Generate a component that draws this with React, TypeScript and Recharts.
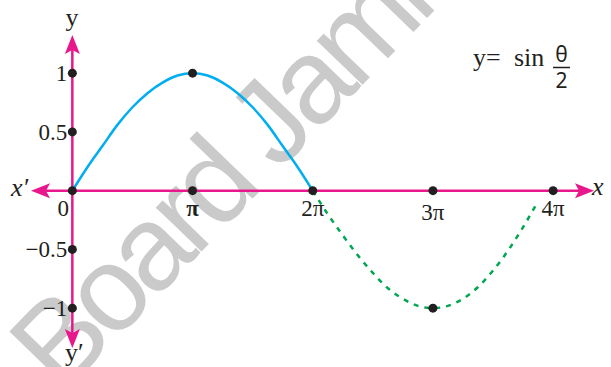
import React from "react";
import { ComposedChart, Line, XAxis, YAxis, ReferenceLine, ReferenceDot } from "recharts";

// θ is measured in multiples of π
const xTickValues = [0, 1, 2, 3, 4];
const xTickLabels = ["0", "π", "2π", "3π", "4π"];
const yTickValues = [1, 0.5, -0.5, -1];
const yTickLabels = ["1", "0.5", "−0.5", "−1"];

// y = sin(θ/2)
const solidTheta = [0, 0.125, 0.25, 0.375, 0.5, 0.625, 0.75, 0.875, 1, 1.125, 1.25, 1.375, 1.5, 1.625, 1.75, 1.875, 2];
const solidY = [0, 0.2, 0.38, 0.56, 0.71, 0.83, 0.92, 0.98, 1, 0.98, 0.92, 0.83, 0.71, 0.56, 0.38, 0.2, 0];
const dashedTheta = [2, 2.125, 2.25, 2.375, 2.5, 2.625, 2.75, 2.875, 3, 3.125, 3.25, 3.375, 3.5, 3.625, 3.75, 3.875];
const dashedY = [0, -0.2, -0.38, -0.55, -0.7, -0.83, -0.92, -0.98, -1, -0.98, -0.92, -0.82, -0.68, -0.51, -0.31, -0.09];

// marked points on the curve
const peakPoints = [
  { t: 1, y: 1 },
  { t: 3, y: -1 },
];

const solidData = solidTheta.map((t, i) => ({ t, y: solidY[i] }));
const dashedData = dashedTheta.map((t, i) => ({ t, y: dashedY[i] }));

const MAGENTA = "#e8188c";
const INK = "#231f20";
const SERIF = "Liberation Serif, Times New Roman, DejaVu Serif, serif";
const SANS = "Noto Sans, sans-serif";

const X_MIN = -0.344;
const X_MAX = 4.34;
const Y_MIN = -1.339;
const Y_MAX = 1.325;

const arrowShape = (dir: "up" | "down" | "left" | "right") => (props: any) => {
  const { cx, cy } = props;
  const pts: [number, number][] = [
    [0, 0],
    [-7.5, 19],
    [0, 15],
    [7.5, 19],
  ];
  const rot = (p: [number, number]): [number, number] => {
    const [a, b] = p;
    if (dir === "up") return [a, b];
    if (dir === "down") return [a, -b];
    if (dir === "left") return [b, a];
    return [-b, a];
  };
  const d = pts.map((p) => rot(p)).map(([a, b]) => `${cx + a},${cy + b}`).join(" ");
  return <polygon points={d} fill={MAGENTA} />;
};

const labelDot = (text: string, dx: number, dy: number, anchor: string, bold = false) => (props: any) => {
  const { cx, cy } = props;
  return (
    <g>
      <circle cx={cx} cy={cy} r={4.5} fill={INK} />
      <text
        x={cx + dx}
        y={cy + dy}
        textAnchor={anchor}
        style={{ fontFamily: SERIF, fontSize: 23, fontWeight: bold ? 700 : 400 }}
        fill={INK}
      >
        {text}
      </text>
    </g>
  );
};

const plainDot = (props: any) => <circle cx={props.cx} cy={props.cy} r={4.5} fill={INK} />;

export default function App() {
  return (
    <div style={{ position: "absolute", left: 0, top: 0, width: 611, height: 367, background: "#fff", overflow: "hidden" }}>
      {/* watermark */}
      <svg width={611} height={367} style={{ position: "absolute", left: 0, top: 0 }}>
        <text
          x={62}
          y={396}
          transform="rotate(-46 62 396)"
          style={{ fontFamily: "Liberation Sans, Arial, sans-serif", fontSize: 120, letterSpacing: -7 }}
          fill="#cacaca"
        >
          Board Jammer
        </text>
      </svg>

      <div style={{ position: "absolute", left: 0, top: 0 }}>
        <ComposedChart width={611} height={367} margin={{ top: 35, right: 17, bottom: 19, left: 31 }}>
          <XAxis type="number" dataKey="t" domain={[X_MIN, X_MAX]} allowDataOverflow hide />
          <YAxis type="number" dataKey="y" domain={[Y_MIN, Y_MAX]} allowDataOverflow hide />

          <ReferenceLine segment={[{ x: X_MIN + 0.1, y: 0 }, { x: X_MAX - 0.1, y: 0 }]} stroke={MAGENTA} strokeWidth={2.5} ifOverflow="visible" />
          <ReferenceLine segment={[{ x: 0, y: Y_MAX - 0.1 }, { x: 0, y: Y_MIN + 0.1 }]} stroke={MAGENTA} strokeWidth={2.5} ifOverflow="visible" />
          <ReferenceDot x={X_MIN} y={0} shape={arrowShape("left")} ifOverflow="visible" />
          <ReferenceDot x={X_MAX} y={0} shape={arrowShape("right")} ifOverflow="visible" />
          <ReferenceDot x={0} y={Y_MAX} shape={arrowShape("up")} ifOverflow="visible" />
          <ReferenceDot x={0} y={Y_MIN} shape={arrowShape("down")} ifOverflow="visible" />

          <Line data={solidData} dataKey="y" type="monotone" stroke="#00aeef" strokeWidth={2.5} dot={false} isAnimationActive={false} />
          <Line data={dashedData} dataKey="y" type="monotone" stroke="#00a651" strokeWidth={2.5} strokeDasharray="5 6" dot={false} isAnimationActive={false} />

          {xTickValues.map((v, i) => (
            <ReferenceDot
              key={"x" + v}
              x={v}
              y={0}
              shape={labelDot(xTickLabels[i], v === 0 ? -9 : 0, v === 3 ? 29 : 25, "middle", v === 1)}
              ifOverflow="visible"
            />
          ))}
          {yTickValues.map((v, i) => (
            <ReferenceDot key={"y" + v} x={0} y={v} shape={labelDot(yTickLabels[i], -5, 8, "end")} ifOverflow="visible" />
          ))}
          {peakPoints.map((p) => (
            <ReferenceDot key={"p" + p.t} x={p.t} y={p.y} shape={plainDot} ifOverflow="visible" />
          ))}
        </ComposedChart>
      </div>

      {/* axis names and equation */}
      <svg width={611} height={367} style={{ position: "absolute", left: 0, top: 0 }}>
        <g fill={INK} style={{ fontFamily: SERIF, fontSize: 26 }}>
          <text x={72} y={26} textAnchor="middle">y</text>
          <text x={65} y={361}>y′</text>
          <text x={11} y={196} style={{ fontStyle: "italic" }}>x′</text>
          <text x={592} y={195} style={{ fontStyle: "italic" }}>x</text>
          <text x={473} y={66}>y=</text>
          <text x={514} y={66}>sin</text>
        </g>
        <g fill={INK} style={{ fontFamily: SANS, fontSize: 21 }}>
          <text x={561.5} y={62} textAnchor="middle">θ</text>
          <text x={561.5} y={88} textAnchor="middle">2</text>
        </g>
        <line x1={553} x2={570} y1={67.5} y2={67.5} stroke={INK} strokeWidth={1.5} />
      </svg>
    </div>
  );
}
